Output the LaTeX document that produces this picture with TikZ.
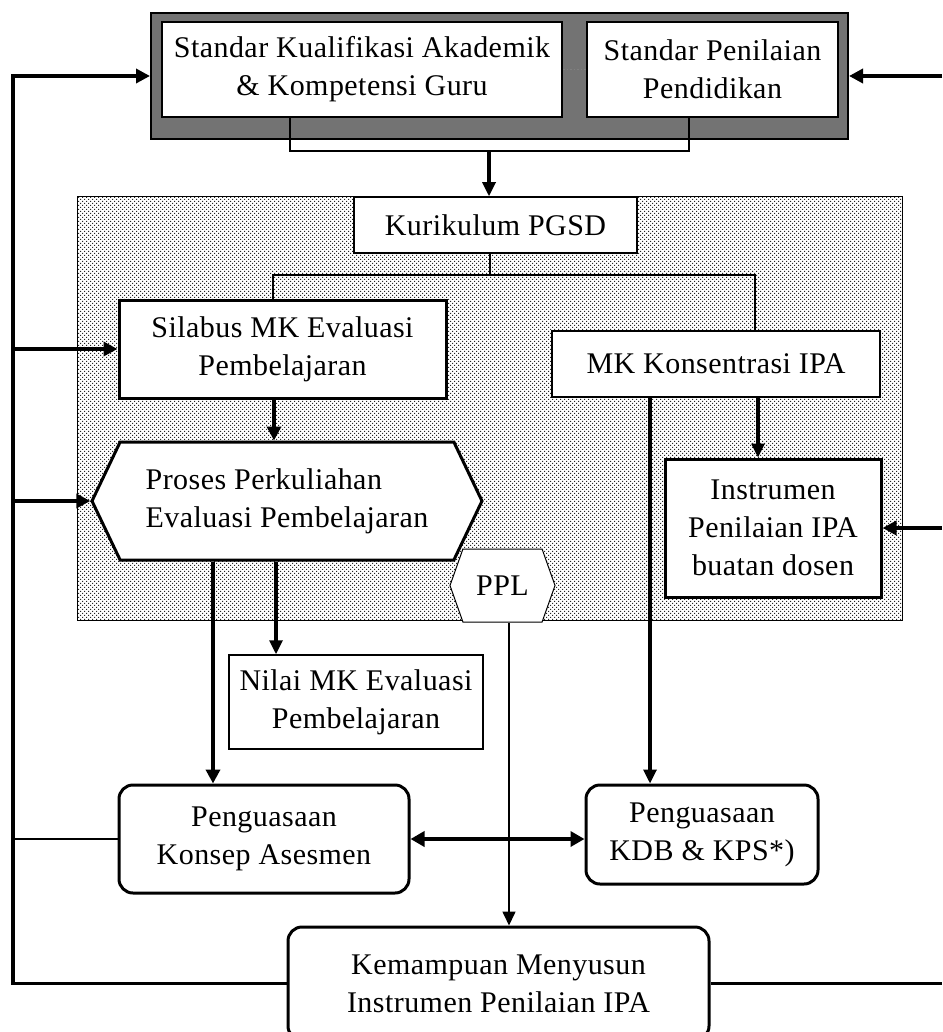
\documentclass[tikz,border=0pt]{standalone}
\usepackage{fontspec}
\setmainfont[LetterSpace=1.5]{Liberation Serif}
\usetikzlibrary{arrows.meta,positioning,calc,patterns,shapes.symbols}

\pgfdeclarepatternformonly{paneldots}{\pgfqpoint{-1pt}{-1pt}}{\pgfqpoint{5pt}{5pt}}{\pgfqpoint{4pt}{4pt}}{%
  \pgfpathrectangle{\pgfqpoint{0pt}{0pt}}{\pgfqpoint{1.1pt}{1.1pt}}%
  \pgfpathrectangle{\pgfqpoint{2pt}{2pt}}{\pgfqpoint{1.1pt}{1.1pt}}%
  \pgfusepath{fill}}

\tikzset{
  box/.style={draw, fill=white, align=center, inner sep=0pt, line width=1.5pt},
  boldbox/.style={box, line width=3pt},
  roundbox/.style={box, line width=3pt, rounded corners=14pt},
  hexbox/.style={box, shape=signal, signal to=west and east},
  link/.style={line width=1.2pt},
  backline/.style={line width=2.8pt},
  flow/.style={line width=3.2pt, -{Triangle[length=14pt,width=13pt]}},
  bigflow/.style={line width=4pt, -{Triangle[length=14pt,width=14pt]}},
}

\begin{document}
\begin{tikzpicture}[x=1pt, y=-1pt, font=\fontsize{30}{38}\selectfont]
    \useasboundingbox (0,0) rectangle (942,1032);

    % Standards (top)
    \node[draw, line width=2pt, fill=black!55, minimum width=697, minimum height=126, inner sep=0pt] (stdframe) at (499.5,76) {};
    \node[box, line width=2pt, minimum width=400, minimum height=95] (stdkual) at (362,69.5) {Standar Kualifikasi Akademik\\\& Kompetensi Guru};
    \node[box, line width=2pt, minimum width=251, minimum height=95] (stdnilai) at (712.5,69.5) {Standar Penilaian\\Pendidikan};
    \draw[gray, dotted, line width=1.5pt] (stdkual.east) -- (stdnilai.west);

    % Study programme panel
    \draw[line width=1pt, pattern=paneldots, pattern color=black!85] (77,197) rectangle (902,620);

    \node[box, minimum width=283, minimum height=56] (kurikulum) at (495.5,225) {Kurikulum PGSD};
    \node[boldbox, minimum width=327, minimum height=98] (silabus) at (282.5,349) {Silabus MK Evaluasi\\Pembelajaran};
    \node[box, minimum width=328, minimum height=66] (mkipa) at (716,364) {MK Konsentrasi IPA};
    \node[hexbox, line width=3pt, minimum width=390, minimum height=118, signal pointer angle=129, align=left] (proses) at (287,501) {Proses Perkuliahan\\Evaluasi Pembelajaran};
    \node[boldbox, minimum width=216, minimum height=138] (instrumen) at (773,528) {Instrumen\\Penilaian IPA\\buatan dosen};
    \node[hexbox, line width=1pt, minimum width=105, minimum height=73, signal pointer angle=141] (ppl) at (502.5,585.5) {PPL};

    % Outcomes
    \node[box, minimum width=254, minimum height=94] (nilai) at (356,702) {Nilai MK Evaluasi\\Pembelajaran};
    \node[roundbox, minimum width=290, minimum height=108] (konsep) at (264,839) {Penguasaan\\Konsep Asesmen};
    \node[roundbox, minimum width=232, minimum height=99] (kdb) at (702,834.5) {Penguasaan\\KDB \& KPS*)};
    \node[roundbox, minimum width=421, minimum height=113] (kemampuan) at (498.5,983.5) {Kemampuan Menyusun\\Instrumen Penilaian IPA};

    % Helper coordinates
    \coordinate (lft) at (13,0);
    \coordinate (rgt) at (942,0);
    \coordinate (jn) at (489,151);
    \coordinate (kj) at (490,275);
    \coordinate (s1) at ([xshift=-8.5]silabus.south);
    \coordinate (p1) at ([xshift=-74]proses.south);
    \coordinate (p2) at ([xshift=-11]proses.south);
    \coordinate (m1) at ([xshift=-66]mkipa.south);
    \coordinate (m2) at ([xshift=42]mkipa.south);
    \coordinate (q1) at ([xshift=6.5]ppl.south);

    % Standards to curriculum
    \draw[link] ([xshift=-72]stdkual.south) |- (jn) -| ([xshift=-23.5]stdnilai.south);
    \draw[flow] (jn) -- (jn |- kurikulum.north);
    \draw[link] (kurikulum.south -| kj) -- (kj);
    \draw[link] ([xshift=-9.5]silabus.north) |- (kj) -| ([xshift=39]mkipa.north);

    % Inside the panel
    \draw[bigflow] (s1) -- (s1 |- proses.north);
    \draw[flow] (m2) -- (m2 |- instrumen.north);

    % Down to outcomes
    \draw[bigflow] (p1) -- (p1 |- konsep.north);
    \draw[flow] (p2) -- (p2 |- nilai.north);
    \draw[flow] (m1) -- (m1 |- kdb.north);
    \draw[line width=4.5pt, {Triangle[length=14pt,width=15pt]}-{Triangle[length=14pt,width=15pt]}] (konsep.east) -- (konsep.east -| kdb.west);
    \draw[line width=1.6pt, -{Triangle[length=14pt,width=13pt]}] (q1) -- (q1 |- kemampuan.north);

    % Feedback lines
    \draw[backline, line width=3.4pt, -{Triangle[length=14pt,width=14pt]}] (kemampuan.west) -- (kemampuan.west -| lft) |- (stdframe.west);
    \draw[bigflow] (lft |- silabus.west) -- (silabus.west);
    \draw[bigflow] (lft |- proses.west) -- (proses.west);
    \draw[backline] (konsep.west) -- (lft |- konsep.west);
    \draw[bigflow] (rgt |- stdframe.east) -- (stdframe.east);
    \draw[bigflow] (rgt |- instrumen.east) -- (instrumen.east);
    \draw[backline] (kemampuan.east) -- (rgt |- kemampuan.east);
\end{tikzpicture}
\end{document}
